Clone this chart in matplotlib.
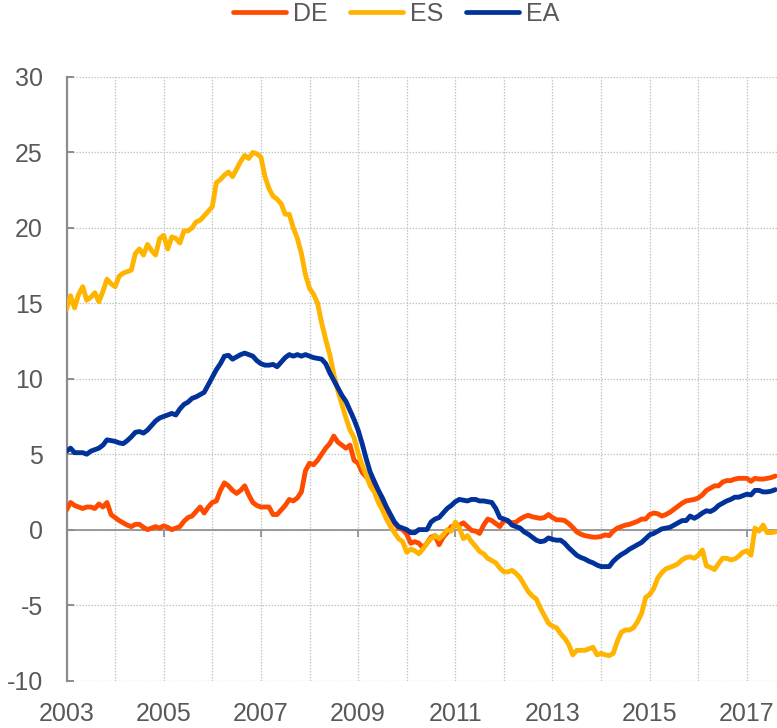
import numpy as np
import matplotlib
matplotlib.use("Agg")
import matplotlib.pyplot as plt
from matplotlib.ticker import FixedLocator

plt.rcParams['font.family'] = ['Liberation Sans', 'DejaVu Sans']

# Monthly data, Jan 2003 - Aug 2017
start_year = 2003
series_names = ["DE", "ES", "EA"]

de = [1.3, 1.8, 1.6, 1.5, 1.4, 1.5, 1.5, 1.4, 1.7, 1.5, 1.8, 1.0,
      0.8, 0.6, 0.45, 0.3, 0.2, 0.35, 0.35, 0.15, 0.0, 0.1, 0.2, 0.1,
      0.25, 0.15, 0.0, 0.1, 0.2, 0.55, 0.8, 0.9, 1.2, 1.5, 1.1, 1.5,
      1.8, 1.9, 2.6, 3.1, 2.9, 2.6, 2.4, 2.6, 2.9, 2.3, 1.8, 1.6,
      1.5, 1.5, 1.5, 1.0, 1.0, 1.3, 1.6, 2.0, 1.9, 2.1, 2.5, 3.9,
      4.4, 4.3, 4.6, 5.0, 5.4, 5.7, 6.2, 5.8, 5.6, 5.4, 5.6, 4.6,
      4.4, 3.8, 3.5, 3.3, 3.0, 2.6, 1.7, 1.3, 0.9, 0.4, 0.1, 0.0,
      -0.3, -0.9, -0.8, -0.9, -1.2, -0.9, -0.5, -0.4, -1.0, -0.5, -0.2, 0.2,
      0.25, 0.3, 0.45, 0.2, -0.05, -0.1, -0.25, 0.3, 0.7, 0.6, 0.4, 0.2,
      0.6, 0.55, 0.45, 0.5, 0.7, 0.85, 0.95, 0.85, 0.8, 0.75, 0.8, 1.0,
      0.8, 0.65, 0.65, 0.6, 0.4, 0.15, -0.15, -0.3, -0.4, -0.45, -0.5, -0.5,
      -0.45, -0.35, -0.4, -0.1, 0.1, 0.2, 0.3, 0.35, 0.45, 0.55, 0.7, 0.7,
      1.0, 1.1, 1.05, 0.9, 1.0, 1.15, 1.35, 1.55, 1.75, 1.9, 1.95, 2.0,
      2.1, 2.3, 2.6, 2.75, 2.9, 2.9, 3.15, 3.25, 3.25, 3.35, 3.4, 3.4,
      3.4, 3.2, 3.4, 3.35, 3.35, 3.4, 3.45, 3.55]

es = [14.6, 15.5, 14.7, 15.6, 16.1, 15.2, 15.4, 15.7, 15.1, 15.8, 16.6, 16.3,
      16.1, 16.8, 17.0, 17.1, 17.2, 18.3, 18.6, 18.2, 18.9, 18.5, 18.2, 19.3,
      19.5, 18.6, 19.4, 19.3, 19.0, 19.8, 19.8, 20.0, 20.4, 20.5, 20.8, 21.1,
      21.4, 23.0, 23.2, 23.5, 23.7, 23.4, 23.9, 24.4, 24.8, 24.6, 25.0, 24.9,
      24.7, 23.4, 22.6, 22.1, 21.9, 21.6, 20.9, 20.9, 20.0, 19.3, 18.3, 16.9,
      16.0, 15.6, 15.0, 13.7, 12.6, 11.6, 10.3, 9.2, 8.3, 7.4, 6.6, 6.1,
      5.1, 4.3, 3.6, 2.9, 2.5, 1.8, 1.3, 0.7, 0.2, -0.2, -0.6, -0.8,
      -1.5, -1.3, -1.4, -1.6, -1.3, -0.9, -0.6, -0.4, -0.6, -0.35, 0.0, -0.1,
      0.5, 0.1, -0.6, -0.4, -0.8, -1.1, -1.45, -1.6, -1.9, -2.05, -2.2, -2.55,
      -2.8, -2.8, -2.7, -2.9, -3.2, -3.65, -4.1, -4.4, -4.6, -5.2, -5.7, -6.2,
      -6.4, -6.5, -6.9, -7.2, -7.6, -8.3, -8.0, -8.0, -8.0, -7.9, -7.8, -8.3,
      -8.2, -8.3, -8.35, -8.2, -7.4, -6.8, -6.65, -6.65, -6.5, -6.1, -5.55, -4.5,
      -4.3, -3.9, -3.2, -2.85, -2.6, -2.5, -2.4, -2.25, -2.0, -1.85, -1.8, -1.9,
      -1.7, -1.35, -2.4, -2.5, -2.65, -2.25, -1.9, -1.9, -2.0, -1.95, -1.75, -1.5,
      -1.4, -1.7, 0.1, -0.1, 0.3, -0.2, -0.2, -0.15]

ea = [5.2, 5.4, 5.1, 5.1, 5.1, 5.0, 5.2, 5.3, 5.4, 5.6, 5.95, 5.9,
      5.85, 5.75, 5.7, 5.9, 6.15, 6.45, 6.5, 6.4, 6.6, 6.9, 7.2, 7.4,
      7.5, 7.6, 7.7, 7.6, 8.0, 8.3, 8.45, 8.7, 8.8, 8.95, 9.1, 9.6,
      10.1, 10.6, 11.0, 11.5, 11.55, 11.3, 11.45, 11.6, 11.7, 11.6, 11.5, 11.2,
      11.0, 10.9, 10.9, 10.95, 10.8, 11.1, 11.4, 11.6, 11.5, 11.6, 11.5, 11.6,
      11.5, 11.4, 11.35, 11.3, 11.0, 10.4, 9.9, 9.4, 8.9, 8.5, 7.9, 7.3,
      6.6, 5.7, 4.7, 3.8, 3.2, 2.6, 2.1, 1.5, 1.0, 0.5, 0.2, 0.1,
      0.0, -0.2, -0.2, 0.0, 0.0, 0.0, 0.5, 0.7, 0.8, 1.1, 1.4, 1.6,
      1.85, 2.0, 1.95, 1.9, 2.0, 2.0, 1.9, 1.9, 1.85, 1.8, 1.4, 0.8,
      0.7, 0.6, 0.3, 0.2, 0.1, -0.15, -0.3, -0.5, -0.7, -0.8, -0.75, -0.55,
      -0.65, -0.7, -0.7, -0.9, -1.2, -1.45, -1.7, -1.85, -1.95, -2.1, -2.2, -2.35,
      -2.45, -2.45, -2.45, -2.1, -1.85, -1.65, -1.5, -1.3, -1.15, -1.0, -0.85, -0.6,
      -0.35, -0.25, -0.1, 0.05, 0.1, 0.15, 0.3, 0.45, 0.6, 0.6, 0.9, 0.75,
      0.9, 1.1, 1.25, 1.2, 1.35, 1.6, 1.75, 1.9, 2.0, 2.15, 2.15, 2.25,
      2.35, 2.3, 2.6, 2.6, 2.5, 2.5, 2.55, 2.65]

year_labels = [str(y) for y in range(2003, 2018, 2)]
y_ticks = list(range(-10, 31, 5))

colors = {"DE": "#FF4B00", "ES": "#FFB400", "EA": "#003299"}
text_color = "#595959"
axis_gray = "#8c8c8c"
grid_gray = "#c4c4c4"

n = len(de)
x = start_year + np.arange(n) / 12.0

W, H = 777, 728
fig = plt.figure(figsize=(W / 100, H / 100), dpi=100)
left_px, right_px = 66.5, 777
top_px, bot_px = 77, 680.5
ax = fig.add_axes([left_px / W, (H - bot_px) / H, (right_px - left_px) / W, (bot_px - top_px) / H])

lines = []
for name, vals in zip(series_names, [de, es, ea]):
    ln, = ax.plot(x, vals, color=colors[name], lw=3.5, solid_joinstyle='round',
                  solid_capstyle='round', label=name, zorder=3)
    lines.append(ln)

ax.set_ylim(-10, 30)
ax.set_xlim(2003, 2003 + (right_px - left_px) / 48.6)

# y axis
ax.set_yticks(y_ticks)
ax.set_yticklabels([str(v) for v in y_ticks])
ax.tick_params(axis='y', direction='in', length=5, width=1.4, color=axis_gray,
               labelsize=18, labelcolor=text_color, pad=17)

# x axis: spine at zero, labels at the bottom
major_years = [int(s) for s in year_labels]
ax.xaxis.set_major_locator(FixedLocator(major_years))
ax.xaxis.set_minor_locator(FixedLocator([y for y in range(2004, 2018, 2)]))
ax.set_xticklabels(year_labels)
ax.tick_params(axis='x', which='major', direction='out', length=5, width=1.2,
               color=axis_gray, labelsize=18, labelcolor=text_color, pad=119)
ax.tick_params(axis='x', which='minor', length=0)

ax.spines['bottom'].set_position(('data', 0))
ax.spines['bottom'].set_color(axis_gray)
ax.spines['bottom'].set_linewidth(1.2)
ax.spines['left'].set_color(axis_gray)
ax.spines['left'].set_linewidth(1.6)
ax.spines['top'].set_visible(False)
ax.spines['right'].set_visible(False)

ax.grid(True, which='both', axis='x', linestyle=(0, (1.2, 1.2)), color=grid_gray, lw=0.9, zorder=0)
ax.grid(True, which='major', axis='y', linestyle=(0, (1.2, 1.2)), color=grid_gray, lw=0.9, zorder=0)
ax.set_axisbelow(True)

leg = fig.legend(handles=lines, loc='center', bbox_to_anchor=(0.51, 0.981), ncol=3,
                 frameon=False, fontsize=18, handlelength=2.1, handletextpad=0.3,
                 columnspacing=0.9, labelcolor=text_color, borderaxespad=0)
for h in leg.legend_handles:
    h.set_linewidth(3.4)

fig.savefig("out.png", dpi=100)
